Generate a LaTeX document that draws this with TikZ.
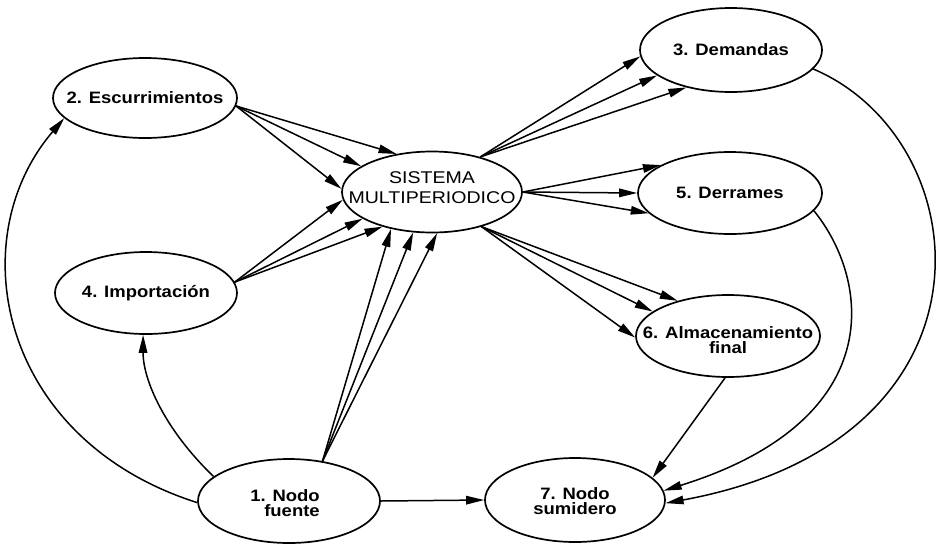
\documentclass[tikz,border=0pt]{standalone}
\usepackage{fontspec}
\setmainfont{Liberation Sans}
\newfontfamily\labfont[FakeStretch=1.12]{Liberation Sans}
\newfontfamily\sisfont[FakeStretch=1.15]{Liberation Sans}
\usetikzlibrary{shapes.geometric,arrows.meta}
\begin{document}
\begin{tikzpicture}[x=1pt,y=-1pt,
  ell/.style={draw, ellipse, line width=1.7pt, inner sep=0pt},
  txt/.style={font=\labfont\fontsize{16.5}{15.5}\selectfont\bfseries, align=center, inner sep=0pt},
  arr/.style={line width=1.5pt, -{Triangle[length=18pt,width=8.5pt]}}
]
\useasboundingbox[fill=white] (0,0) rectangle (950,547);
% ellipses
\node[ell, minimum width=184pt, minimum height=80pt] (n2) at (145,98) {};
\node[ell, minimum width=180pt, minimum height=81pt] (sis) at (432,192) {};
\node[ell, minimum width=182pt, minimum height=84pt] (n3) at (731,50) {};
\node[ell, minimum width=184pt, minimum height=82pt] (n5) at (730,193) {};
\node[ell, minimum width=184pt, minimum height=82pt] (n6) at (728,336) {};
\node[ell, minimum width=180pt, minimum height=84pt] (n7) at (575,500) {};
\node[ell, minimum width=182pt, minimum height=82pt] (n4) at (146,293) {};
\node[ell, minimum width=182pt, minimum height=84pt] (n1) at (289,501) {};
% labels
\node[txt] (t2) at (n2) {2. Escurrimientos};
\node[txt, font=\sisfont\fontsize{17}{20}\selectfont] (tsis) at (432,188) {SISTEMA\\MULTIPERIODICO};
\node[txt] (t3) at (n3) {3. Demandas};
\node[txt] (t5) at (n5) {5. Derrames};
\node[txt] (t6) at (728,340) {6. Almacenamiento\\final};
\node[txt] (t7) at (575,501) {7. Nodo\\sumidero};
\node[txt] (t4) at (n4) {4. Importación};
\node[txt, align=right] (t1) at (285,503) {1. Nodo\\fuente};
% 2 -> sis
\draw[arr] (n2.355) -- (sis.133);
\draw[arr] (n2.355) -- (sis.160);
\draw[arr] (n2.355) -- (sis.178);
% 4 -> sis
\draw[arr] (n4.7) -- (sis.185);
\draw[arr] (n4.7) -- (sis.201);
\draw[arr] (n4.7) -- (sis.215);
% 1 -> sis
\draw[arr] (n1.50) -- (sis.222);
\draw[arr] (n1.50) -- (sis.245);
\draw[arr] (n1.50) -- (sis.277);
% sis -> 3
\draw[arr] (sis.36) -- (n3.184);
\draw[arr] (sis.36) -- (n3.199);
\draw[arr] (sis.36) -- (n3.220);
% sis -> 5
\draw[arr] (sis.0) -- (n5.158);
\draw[arr] (sis.0) -- (n5.180);
\draw[arr] (sis.0) -- (n5.194);
% sis -> 6
\draw[arr] (sis.325) -- (n6.145);
\draw[arr] (sis.325) -- (n6.162);
\draw[arr] (sis.325) -- (n6.181);
% curves
\draw[arr] (n1.181) .. controls (0,440) and (-40,240) .. (n2.194);
\draw[arr] (n1.162) .. controls (165,430) and (143,380) .. (n4.266);
\draw[arr] (n1.east) -- (n7.west);
\draw[arr] (n6.266) -- (n7.16);
\draw[arr] (n5.348) .. controls (870,280) and (890,420) .. (n7.6);
\draw[arr] (n3.347) .. controls (980,140) and (1010,440) .. (n7.358);
\end{tikzpicture}
\end{document}
